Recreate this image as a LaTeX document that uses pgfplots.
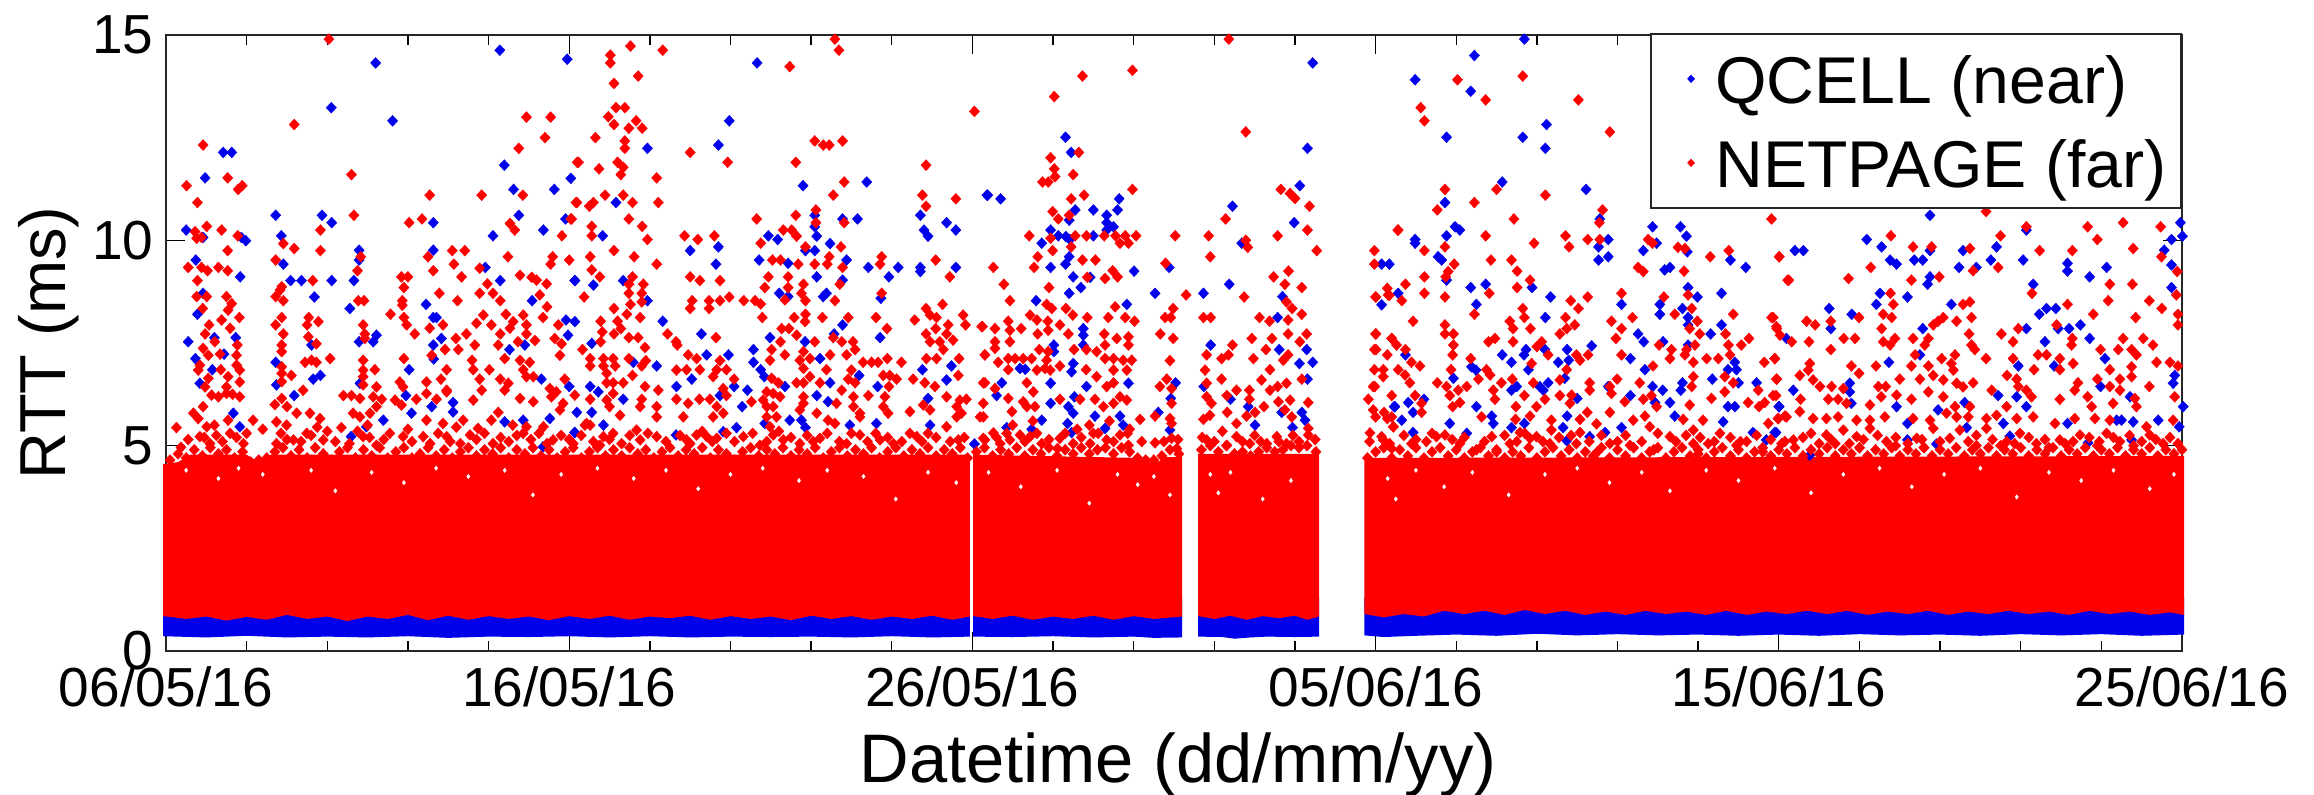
\documentclass[border=0pt]{standalone}
\usepackage{pgfplots}
\pgfplotsset{compat=1.18}
\usepackage{fontspec}
\setmainfont{Liberation Sans}
\definecolor{refblue}{RGB}{0,0,235}
\definecolor{refred}{RGB}{255,0,0}
\pgfplotsset{
  bmk/.style={only marks,color=refblue,mark=diamond*,mark size=1.65pt,mark options={xscale=1.25,draw=refblue,fill=refblue,line width=0.1pt}},
  rmk/.style={only marks,color=refred,mark=diamond*,mark size=1.65pt,mark options={xscale=1.25,draw=refred,fill=refred,line width=0.1pt}},
}
\begin{document}
\begin{tikzpicture}
\useasboundingbox (0,0) rectangle (694.2pt,238.5pt);
\begin{axis}[
  at={(49.8pt,43.2pt)},anchor=south west,
  scale only axis,width=604.8pt,height=184.8pt,
  xmin=0,xmax=50,ymin=0,ymax=15,clip=false,
  xtick={0,10,20,30,40,50},
  xticklabels={06/05/16,16/05/16,26/05/16,05/06/16,15/06/16,25/06/16},
  minor x tick num=4,
  ytick={0,5,10,15},
  tick align=inside,
  major tick length=5.7pt,minor tick length=3pt,
  tick style={black,line width=0.4pt},
  axis line style={line width=0.7pt,black!85},
  /pgf/number format/assume math mode=true,
  every tick label/.append style={font=\fontsize{16.5}{18}\selectfont},
  x tick label style={yshift=-1.2pt},
  y tick label style={xshift=-0.2pt},
  xlabel={Datetime (dd/mm/yy)},
  ylabel={RTT (ms)},
  x label style={at={(axis description cs:0.502,-0.214)},anchor=base,font=\fontsize{20.6}{22}\selectfont},
  y label style={at={(axis description cs:-0.0501,0.5)},anchor=base,rotate=0,font=\fontsize{19.5}{22}\selectfont},
  legend style={at={(axis description cs:1,1.0032)},anchor=north east,
    draw=black!85,line width=0.6pt,fill=white,inner xsep=4.4pt,inner ysep=3.2pt,
    font=\fontsize{19.85}{22}\selectfont,
    nodes={inner sep=0pt,text height=17.5pt,text depth=3pt},
    row sep=4.7pt,
    /tikz/every even column/.append style={column sep=4pt},
    cells={anchor=west}},
  legend image code/.code={\path[#1,mark size=1.15pt] plot coordinates {(0pt,0pt)} (-7.3pt,0pt) (7pt,0pt);},
]
% --- dense lower band of QCELL points (outline of the filled mass)
\addplot[fill=refblue,draw=none,forget plot] coordinates {(-0.07,0.36)(1,0.33)(2,0.37)(3,0.33)(4,0.35)(5,0.33)(6,0.36)(7,0.32)(8,0.35)(9,0.34)(10,0.36)(11,0.33)(12,0.36)(13,0.33)(14,0.35)(15,0.34)(16,0.35)(17,0.33)(18,0.36)(19,0.33)(19.94,0.35)(19.94,1.3)(-0.07,1.3)};
\addplot[fill=refblue,draw=none,forget plot] coordinates {(20.02,0.35)(21,0.34)(22,0.36)(23,0.33)(24,0.35)(24.5,0.32)(25.2,0.33)(25.2,1.3)(20.02,1.3)};
\addplot[fill=refblue,draw=none,forget plot] coordinates {(25.6,0.35)(26.2,0.34)(26.5,0.30)(26.9,0.33)(27.3,0.35)(28,0.34)(28.6,0.35)(28.6,1.3)(25.6,1.3)};
\addplot[fill=refblue,draw=none,forget plot] coordinates {(29.72,0.38)(30.2,0.34)(31,0.37)(32,0.40)(33,0.37)(34,0.42)(35,0.38)(36,0.41)(37,0.38)(38,0.40)(39,0.37)(40,0.40)(41,0.37)(42,0.41)(43,0.38)(44,0.40)(45,0.37)(46,0.41)(47,0.38)(48,0.41)(49,0.37)(50.05,0.40)(50.05,1.3)(29.72,1.3)};
% --- sparse QCELL points
\addplot[bmk] coordinates {
(8.28,14.63)(9.95,14.41)(5.2,14.32)(4.1,13.23)(5.62,12.91)(8.39,11.83)(10.04,11.51)(1.42,12.14)(1.63,12.14)(0.97,11.52)(8.62,11.24)(9.63,11.24)(2.72,10.61)(3.87,10.61)(4.11,10.43)(8.75,10.61)(6.63,10.43)(9.91,10.52)(0.5,10.25)(9.36,10.25)(0.92,10.07)(1.87,10.07)(1.98,9.99)(2.86,10.11)(8.11,10.11)(4.79,9.76)(6.63,9.76)(4.79,9.52)(0.74,9.52)(2.91,9.42)(7.92,9.34)(1.84,9.11)(3.09,9.02)(3.36,9.02)(4.11,9.02)(4.66,9.02)(8.29,9.02)(10.14,9.02)(0.92,8.71)(3.68,8.62)(9.08,8.53)(6.45,8.44)(4.56,8.34)(0.78,8.2)(6.63,8.12)(6.71,8.12)(9.92,8.06)(0.55,7.53)(1.2,7.63)(4.79,7.53)(5.22,7.69)(5.14,7.53)(1.73,7.63)(3.61,7.45)(6.63,7.45)(6.83,7.61)(9.97,7.69)(8.9,7.45)(8.52,7.34)(1.44,7.23)(0.73,7.12)(2.72,7.03)(6.64,7.11)(1.15,6.85)(6.03,6.85)(3.83,6.71)(3.65,6.62)(0.84,6.52)(2.74,6.48)(4.81,6.52)(9.31,6.62)(10,6.44)(3.18,6.22)(5.95,6.22)(6.59,5.95)(7.12,6.05)(7.12,5.82)(6.09,5.79)(1.67,5.79)(1.83,5.46)(8.4,5.58)(8.86,5.62)(9.52,5.66)(10.13,5.32)(4.59,5.22)(9.35,4.97)(4.97,5.46)(5.39,5.62)
(14.66,14.32)(13.97,12.91)(13.7,12.32)(11.94,12.24)(11.16,10.92)(15.8,11.33)(17.38,11.42)(20.36,11.1)(18.71,10.61)(16.09,10.61)(16.78,10.52)(17.15,10.52)(19.36,10.43)(19.59,10.25)(18.8,10.25)(18.9,10.1)(16.09,10.33)(14.94,10.11)(15.17,10.02)(10.83,10.11)(16.14,10.1)(16.47,9.92)(13.7,9.84)(13,9.75)(15.86,9.75)(16.09,9.75)(14.71,9.52)(15.43,9.44)(16.88,9.52)(13.64,9.42)(17.42,9.34)(18.16,9.34)(18.71,9.34)(18.71,9.24)(19.59,9.34)(16.14,9.11)(17.93,9.11)(10.14,9.02)(11.34,9.02)(16.78,9.03)(10.6,8.91)(15.21,8.71)(15.43,8.63)(16.38,8.71)(16.3,8.63)(17.73,8.59)(11.94,8.53)(12.32,8.03)(16.78,7.94)(10.14,8.02)(13.28,7.72)(16.57,7.72)(14.98,7.63)(17.71,7.63)(10.56,7.49)(15.85,7.53)(13.41,7.21)(13.95,7.21)(14.57,7.34)(14.57,7.03)(16.22,7.12)(11.59,7.03)(12.17,6.94)(14.75,6.85)(18.76,6.85)(19.48,6.94)(13.04,6.62)(14.84,6.68)(17.19,6.71)(19.36,6.6)(16.47,6.53)(10.52,6.44)(12.66,6.44)(14.09,6.44)(14.42,6.35)(17.65,6.44)(15.35,6.44)(10.72,6.31)(13.74,6.22)(16.14,6.22)(16.42,6.07)(11.34,6.13)(18.9,6.15)(14.29,5.95)(10.56,5.81)(10.19,5.81)(15.47,5.62)(15.76,5.62)(10.85,5.5)(16.96,5.5)(18.95,5.5)(14.15,5.44)(17.62,5.54)(15.86,5.44)(10.14,5.32)(12.65,5.26)(20.05,5.04)(13.82,5.34)(14.85,5.54)
(20.38,11.1)(20.7,11.01)(22.31,12.51)(22.45,12.14)(22.55,10.74)(23,10.74)(23.64,11.01)(23.6,10.74)(23.33,10.61)(23.33,10.43)(23.5,10.33)(23.33,10.25)(22.4,10.49)(21.94,10.25)(22.13,10.11)(22.32,10.09)(22.42,10.02)(23,10.11)(21.72,9.93)(22.4,9.6)(22.31,9.42)(21.94,9.34)(24.01,9.25)(24.88,9.34)(22.5,9.11)(22.92,9.1)(22.69,8.85)(22.4,8.71)(21.58,8.53)(23.83,8.44)(24.53,8.71)(25.73,8.71)(26.37,8.93)(26.45,10.83)(26.68,9.93)(28.12,11.33)(27.98,10.43)(28.31,12.24)(28.44,14.32)(27.69,8.63)(27.57,8.12)(22.75,7.85)(22.75,7.69)(22.75,7.45)(22.02,7.45)(22.02,7.29)(25.91,7.45)(27.61,7.34)(28.29,7.34)(28.44,7.03)(28.11,7)(22.5,7)(22.46,6.8)(21.31,6.86)(21.18,6.88)(23.87,6.52)(22.83,6.44)(21.94,6.52)(20.73,6.53)(25.04,6.53)(28.31,6.62)(25.74,6.44)(20.6,6.22)(26.4,6.13)(24.92,6.15)(21.94,6.03)(22.53,6.19)(22.38,5.95)(22.5,5.79)(23.04,5.72)(24.61,5.81)(23.66,5.72)(23.74,5.5)(20.85,5.44)(21.47,5.4)(21.72,5.62)(22.36,5.54)(22.46,5.32)(23.29,5.42)(26.84,5.95)(28.17,5.81)(28.25,5.62)(27.94,5.44)(27.67,5.81)(27.01,5.5)(24.9,5.38)(30.46,5.95)
(33.69,14.9)(32.45,14.5)(30.98,13.91)(32.36,13.63)(34.24,12.82)(31.76,12.51)(33.65,12.51)(34.21,12.24)(33.14,11.42)(35.22,11.24)(31.72,10.92)(31.97,10.33)(32.09,10.25)(35.56,10.52)(36.87,10.33)(37.56,10.33)(37.71,10.1)(30.98,10.02)(30.98,9.93)(31.76,10.11)(35.77,10.02)(35.53,9.84)(36.97,9.93)(36.64,9.75)(37.73,9.72)(31.55,9.6)(31.64,9.52)(35.53,9.52)(35.77,9.6)(30.15,9.42)(30.34,9.42)(38.8,9.52)(39.18,9.34)(37.17,9.28)(37.3,9.34)(31.76,9.03)(32.36,8.85)(32.73,8.93)(33.88,8.85)(37.75,8.85)(30.56,8.71)(37.98,8.62)(34.34,8.62)(38.58,8.71)(30.15,8.43)(32.5,8.44)(36.1,8.44)(37.05,8.44)(37.05,8.2)(37.61,8.34)(34.21,8.12)(37.75,8.12)(38.58,7.94)(37.75,7.94)(36.51,7.72)(38.31,7.72)(36.65,7.53)(37.13,7.53)(35.36,7.43)(33.73,7.34)(33.68,7.21)(34.75,7.34)(33.14,7.21)(34.2,7.34)(30.74,7.21)(37.75,7.45)(36.32,7.12)(33.37,7.03)(34.53,7.03)(34.79,7.08)(32.38,6.92)(32.49,6.84)(38.91,7.03)(38.95,6.85)(38.74,6.85)(33.79,6.85)(36.68,6.85)(34.69,6.64)(38.35,6.62)(34.28,6.53)(31.93,6.64)(34.07,6.44)(34.16,6.35)(33.5,6.44)(33.37,6.35)(36.87,6.44)(37.12,6.35)(37.61,6.53)(37.57,6.35)(39.45,6.53)(39,6.53)(35.77,6.44)(36.32,6.22)(30.81,6.05)(31.2,6.13)(35,6.15)(37.3,6.05)(36.93,6.05)(30.48,5.95)(32.5,5.95)(38.74,5.95)(38.91,5.95)(40,5.95)(30.93,5.81)(30.65,5.62)(32.88,5.72)(32.92,5.54)(34.75,5.72)(37.42,5.72)(31.84,5.54)(34.65,5.44)(33.69,5.54)(33.37,5.44)(36.1,5.44)(30.93,5.32)(35.69,5.32)(39.36,5.32)(32.26,5.3)(35.31,5.22)(34.74,5.12)(39.93,5.32)(38.62,5.58)(39.69,5.14)
(43.75,10.61)(42.18,10.02)(42.55,9.84)(49.96,10.43)(50.01,10.1)(49.74,10.02)(46.14,10.25)(40.4,9.75)(40.61,9.75)(45.4,9.84)(49.56,9.76)(43.75,9.75)(44.57,9.75)(42.76,9.52)(42.92,9.42)(43.36,9.52)(43.57,9.52)(45.26,9.52)(46.06,9.52)(47.16,9.44)(47.16,9.25)(44.47,9.34)(44.9,9.34)(48.13,9.34)(49.74,9.4)(47.71,9.11)(43.75,9.11)(43.69,8.93)(46.31,8.93)(42.51,8.71)(43.19,8.62)(49.74,8.85)(42.42,8.44)(44.28,8.44)(41.25,8.34)(46.64,8.34)(46.87,8.34)(46.46,8.2)(41.81,8.2)(47.48,7.94)(41.29,7.85)(43.57,7.85)(46.14,7.85)(46.93,7.85)(47.2,7.85)(40.19,7.61)(46.6,7.53)(47.71,7.61)(43.5,7.21)(48.09,7.12)(42.73,7.03)(45.94,6.94)(46.83,6.94)(49.82,6.71)(49.78,6.52)(41.76,6.52)(41.76,6.31)(47.98,6.44)(40.36,6.35)(48.71,6.19)(45.44,6.22)(41.8,6.03)(40.01,5.95)(42.92,5.95)(43.95,5.87)(50.03,5.95)(44.61,6.05)(46.14,5.95)(45.9,6.19)(48.38,5.62)(48.5,5.62)(49.41,5.62)(43.19,5.54)(45.57,5.54)(47.16,5.54)(48.79,5.58)(44.66,5.44)(49.93,5.46)(39.9,5.32)(45.73,5.23)(43.19,5.14)(47.67,5.07)(48.75,5.14)(43.91,5.04)(40.77,4.77)
};
% --- dense band of NETPAGE points (outline of the filled mass)
\addplot[fill=refred,draw=none,forget plot] coordinates {(-0.07,0.85)(0.5,0.78)(1,0.84)(1.5,0.74)(2,0.83)(2.5,0.76)(3,0.88)(3.5,0.78)(4,0.84)(4.5,0.73)(5,0.84)(5.5,0.78)(6,0.88)(6.5,0.75)(7,0.86)(7.5,0.76)(8,0.85)(8.5,0.78)(9,0.84)(9.5,0.75)(10,0.85)(10.5,0.78)(11,0.86)(11.5,0.76)(12,0.84)(12.5,0.8)(13,0.86)(13.5,0.76)(14,0.85)(14.5,0.78)(15,0.84)(15.5,0.75)(16,0.86)(16.5,0.78)(17,0.85)(17.5,0.76)(18,0.84)(18.5,0.78)(19,0.86)(19.5,0.76)(19.94,0.84)
(19.94,4.78)(2.6,4.78)(2.3,4.6)(2,4.78)(0.6,4.78)(0.3,4.6)(-0.07,4.55)};
\addplot[fill=refred,draw=none,forget plot] coordinates {(20.02,0.85)(20.5,0.78)(21,0.86)(21.5,0.76)(22,0.84)(22.5,0.78)(23,0.86)(23.5,0.76)(24,0.85)(24.5,0.78)(25.2,0.84)(25.2,4.72)(24.8,4.72)(24.5,4.55)(24.2,4.7)(20.02,4.78)};
\addplot[fill=refred,draw=none,forget plot] coordinates {(25.6,0.85)(26,0.78)(26.4,0.86)(26.8,0.76)(27.2,0.85)(27.6,0.8)(28,0.86)(28.3,0.76)(28.6,0.84)(28.6,4.8)(25.6,4.8)};
\addplot[fill=refred,draw=none,forget plot] coordinates {(29.72,0.9)(30.2,0.82)(30.7,0.9)(31.2,0.84)(31.7,0.98)(32.2,0.9)(32.7,0.98)(33.2,0.88)(33.7,1)(34.2,0.9)(34.7,0.98)(35.2,0.88)(35.7,0.96)(36.2,0.88)(36.7,0.98)(37.2,0.9)(37.7,0.96)(38.2,0.88)(38.7,0.98)(39.2,0.88)(39.7,0.96)(40.2,0.9)(40.7,0.98)(41.2,0.9)(41.7,0.98)(42.2,0.88)(42.7,0.96)(43.2,0.9)(43.7,0.98)(44.2,0.88)(44.7,0.96)(45.2,0.9)(45.7,0.98)(46.2,0.9)(46.7,0.96)(47.2,0.88)(47.7,0.98)(48.2,0.9)(48.7,0.96)(49.2,0.88)(49.7,0.94)(50.05,0.88)
(50.05,4.75)(29.72,4.7)};
% --- sparse NETPAGE points
\addplot[rmk] coordinates {
(4.04,14.9)(3.18,12.82)(0.92,12.32)(4.6,11.6)(8.94,13)(9.54,13)(9.4,12.5)(8.75,12.24)(10.2,11.9)(0.51,11.33)(1.53,11.52)(1.79,11.24)(1.89,11.33)(6.54,11.1)(7.83,11.1)(8.85,11.1)(0.78,10.92)(10.17,10.92)(4.66,10.61)(10.04,10.52)(6.03,10.43)(6.35,10.52)(1.01,10.34)(1.38,10.25)(3.83,10.25)(8.53,10.41)(8.65,10.25)(0.72,10.21)(0.76,10.05)(0.88,10.07)(1.78,10.11)(9.82,10.11)(2.91,9.92)(3.18,9.8)(1.53,9.75)(3.83,9.75)(7.1,9.75)(7.41,9.75)(2.72,9.52)(4.83,9.6)(6.5,9.6)(8.48,9.6)(9.59,9.6)(10,9.52)(7.14,9.42)(9.54,9.42)(0.55,9.34)(0.88,9.34)(1.03,9.26)(1.3,9.34)(1.53,9.26)(7.78,9.32)(4.75,9.26)(6.63,9.26)(7.33,9.11)(5.84,9.11)(6,9.11)(8.78,9.15)(9.07,9.1)(9.19,9.03)(0.78,9.02)(3.64,9.02)(2.87,8.87)(2.83,8.79)(5.9,8.85)(7.97,8.94)(9.44,8.94)(7.78,8.71)(8.11,8.71)(6.78,8.71)(0.76,8.63)(1.01,8.63)(1.5,8.63)(1.63,8.46)(2.72,8.63)(9.27,8.67)(2.91,8.53)(4.77,8.53)(4.91,8.53)(5.86,8.53)(5.86,8.42)(7.23,8.53)(8.29,8.53)(9.45,8.38)(0.91,8.34)(1.54,8.3)(5.57,8.2)(8.43,8.2)(7.87,8.18)(7.7,7.98)(2.87,8.12)(3.54,8.12)(5.9,8.12)(8.86,8.18)(9.35,8.12)(1.38,8.06)(1.82,8.12)(2.72,7.94)(3.5,7.94)(3.78,8.02)(4.89,7.94)(1.07,7.94)(5.97,7.94)(6.87,7.94)(8.07,7.94)(8.61,8.02)(8.94,7.94)(9.73,7.94)(1.59,7.86)(6.54,7.86)(8.53,7.86)(0.97,7.72)(2.91,7.72)(6.17,7.72)(7.45,7.72)(8.29,7.72)(8.94,7.72)(4.93,7.72)(3.53,7.65)(7.19,7.61)(1.21,7.53)(9.64,7.61)(9.15,7.56)(3.73,7.48)(9.81,7.48)(1.77,7.45)(2.87,7.45)(4.93,7.61)(7.66,7.45)(8.24,7.45)(8.73,7.53)(0.92,7.37)(1.05,7.2)(6.92,7.34)(7.25,7.34)(2.87,7.29)(1.34,7.23)(1.75,7.2)(6.59,7.2)(9.77,7.2)(8.4,7.12)(3.61,7.08)(3.45,7.03)(3.73,7.03)(4.07,7.12)(4.89,7.08)(5.9,7.12)(7.59,7.08)(8.78,7.08)(9.02,7.03)(0.84,6.96)(0.8,6.84)(1.75,6.96)(1.83,6.84)(2.87,6.92)(2.87,6.76)(4.89,6.84)(5.18,6.85)(6.96,6.85)(7.62,6.85)(8.02,6.85)(8.86,6.85)(1.36,6.85)(3.11,6.71)(1.54,6.68)(8.94,6.68)(9.11,6.68)(4.89,6.68)(1.05,6.64)(6.82,6.62)(7.78,6.62)(8.29,6.62)(9.89,6.62)(2.87,6.56)(1.83,6.55)(5.8,6.55)(8.49,6.52)(4.89,6.48)(0.97,6.43)(6.46,6.55)(1.5,6.43)(9.52,6.39)(5.22,6.43)(3.4,6.35)(5.88,6.43)(7.83,6.35)(6.96,6.35)(6.46,6.27)(8.4,6.35)(9.68,6.31)
(0.68,5.79)(0.92,5.95)(1.13,6.23)(1.5,6.27)(1.83,6.19)(2.87,6.15)(4.4,6.22)(4.6,6.22)(4.81,6.15)(5.14,6.19)(5.35,6.13)(5.68,6.11)(6.21,6.13)(6.71,6.13)(6.96,6.31)(7.62,6.11)(8.78,6.15)(9.11,6.07)(9.56,6.19)(9.85,6.03)(1.3,6.19)(1.65,6.25)(2.7,6)(3,5.95)(0.8,5.66)(1.01,5.46)(1.54,5.62)(2.16,5.62)(2.74,5.58)(2.99,5.5)(3.24,5.79)(3.57,5.79)(3.82,5.66)(3.75,5.45)(4.64,5.79)(4.81,5.7)(5.06,5.79)(5.22,5.95)(5.84,5.99)(6.46,5.62)(6.87,5.54)(7.37,5.62)(7.74,5.42)(8.07,5.62)(8.24,5.81)(8.94,5.46)(9.36,5.46)(9.77,5.87)(0.26,5.44)(0.37,4.96)(0.84,5.22)(1.09,5.05)(1.59,5.3)(1.92,5.05)(2.74,5.05)(3.16,5.14)(3.49,5.3)(3.9,5.14)(4.35,5.44)(4.89,5.22)(5.22,5.01)(5.88,5.22)(6.38,5.22)(6.96,5.22)(7.54,5.26)(8.11,5.05)(8.86,5.3)(9.6,5.14)(10.1,5.05)(1.2,5.5)(2.4,5.4)(5,5.5)(6,5.4)(7.2,5.45)(8.6,5.5)
(16.59,14.9)(16.69,14.63)(11.52,14.73)(12.32,14.63)(11.02,14.51)(11.02,14.32)(11.71,14)(15.47,14.23)(11.11,13.82)(11.16,13.23)(11.38,13.23)(20.05,13.14)(10.97,13.01)(11.11,12.82)(11.66,12.91)(11.48,12.73)(11.81,12.73)(10.65,12.5)(11.38,12.42)(11.38,12.24)(16.09,12.42)(16.3,12.32)(16.45,12.32)(16.78,12.42)(13,12.14)(10.23,11.9)(11.2,11.9)(13.93,11.9)(15.62,11.9)(18.85,11.83)(10.74,11.74)(11.34,11.78)(11.28,11.6)(12.17,11.52)(16.82,11.42)(10.89,11.1)(11.34,11.1)(16.55,11.1)(18.76,11.1)(19.59,11.01)(10.19,10.92)(10.6,10.92)(10.5,10.83)(11.57,10.92)(12.21,10.92)(18.85,10.83)(16.12,10.74)(15.62,10.61)(14.65,10.52)(10.06,10.52)(11.48,10.52)(16.82,10.43)(16.12,10.43)(10.56,10.34)(10.56,10.11)(11.81,10.34)(15.31,10.25)(15.52,10.25)(15.64,10.1)(12.86,10.11)(13.6,10.11)(11.94,10.02)(13.19,10.02)(14.75,9.93)(15.86,9.84)(16.74,9.84)(11.11,9.75)(11.61,9.6)(10.52,9.6)(17.75,9.6)(16.45,9.6)(15.04,9.52)(15.24,9.52)(19.09,9.52)(17.71,9.42)(12.17,9.42)(15.68,9.42)(16.09,9.42)(16.4,9.42)(10.56,9.28)(10.76,9.11)(16.78,9.34)(14.94,9.11)(15.43,9.11)(13,9.11)(13.24,9.02)(13.74,9.02)(19.44,9.11)(11.57,9.11)(11.48,8.93)(11.84,8.93)(15.81,8.93)(16.71,8.93)(14.85,8.85)(15.43,8.85)(11.48,8.71)(11.8,8.71)(15.76,8.71)(17.75,8.71)(10.37,8.62)(13.97,8.62)(15.35,8.55)(13.74,8.53)(14.33,8.53)(13.05,8.53)(13.47,8.53)(13,8.34)(13.47,8.34)(14.61,8.53)(14.75,8.45)(15.86,8.53)(16.59,8.53)(11.8,8.5)(11.52,8.44)(11.11,8.34)(18.85,8.34)(19.26,8.44)(11.43,8.2)(15.86,8.2)(18.95,8.18)(19.11,8.12)(19.77,8.18)(14.79,8.12)(15.58,8.12)(16.28,8.12)(16.92,8.12)(17.61,8.12)(11.76,8.12)(18.57,8.06)(10.78,8.03)(11.2,8.03)(15.85,8.02)(19.83,7.94)(15.27,7.85)(15.45,7.85)(19.09,7.85)(19.4,7.94)(17.88,7.85)(20.23,7.9)(11.28,7.85)(10.82,7.77)(12.44,7.72)(18.85,7.72)(15.64,7.69)(19.36,7.72)(11.11,7.72)(11.48,7.63)(11.71,7.63)(13.64,7.63)(16.55,7.63)(16.76,7.53)(17.04,7.53)(10.78,7.53)(12.65,7.53)(12.68,7.45)(18.95,7.53)(19.19,7.53)(19.52,7.57)(15.24,7.53)(16.09,7.53)(11.88,7.39)(10.33,7.34)(17.09,7.34)(15.02,7.34)(15.81,7.29)(19.28,7.34)(20.31,7.21)(12.95,7.21)(13.16,7.12)(15.35,7.21)(16.47,7.21)(16.88,7.21)(10.52,7.12)(10.85,7.12)(11.09,7.12)(11.48,7.12)(11.9,7.07)(13.74,7.07)(19.67,7.12)(17.89,7.12)(18.86,7.12)(19.11,7.12)(17.29,7.03)(17.5,7.03)(17.66,7.03)(18.24,7.03)(15.72,7.08)(15.97,7.12)(10.52,6.94)(10.85,6.94)(11.14,6.94)(14.98,7.08)(11.8,6.94)(12.66,6.84)(12.91,6.85)(13.24,6.85)(13.66,6.85)(13.9,6.85)(16.38,6.85)(15.81,6.88)(17,6.84)(10.93,6.76)(11.57,6.71)(17.79,6.71)(17.95,6.71)(19.65,6.71)(13.57,6.68)(15.97,6.68)(15.02,6.64)(15.19,6.53)(18.53,6.62)(18.12,6.62)(16.92,6.62)(14.09,6.62)(10.93,6.53)(11.09,6.53)(18.82,6.53)(16.22,6.53)(15.64,6.53)(15.81,6.53)(11.34,6.53)(20.27,6.53)(17.09,6.53)(17.93,6.44)(11.88,6.44)(13.82,6.39)(14.9,6.31)(15.06,6.27)(15.23,6.19)(12.21,6.35)(16.76,6.35)(19.07,6.44)(11.09,6.27)(10.14,6.23)(13.9,6.22)(17.83,6.19)(17.05,6.19)(17.42,6.22)(19.36,6.19)(19.85,6.13)(19.69,6.11)
(10.52,6.13)(10.93,6.11)(11.8,6.13)(12.66,6.13)(12.95,6.03)(13.23,6.13)(13.49,6.13)(13.66,5.95)(14.52,6.07)(14.81,6.11)(15.06,5.95)(15.81,6.03)(10.52,5.5)(10.39,5.5)(12.17,5.7)(12.83,5.7)(13.57,5.7)(13.82,5.79)(14.9,5.7)(15.14,5.7)(16.14,5.79)(16.42,5.62)(16.59,5.54)(17.21,5.7)(18.45,5.83)(19.61,5.7)(20.19,5.7)(11,5.95)(11.76,5.95)(12.17,5.95)(11.26,5.74)(18.78,5.99)(18.95,5.87)(17.05,5.95)(17.21,5.79)(17.79,5.95)(17.91,5.79)(16.63,6.03)(15.72,5.87)(19.73,5.79)(19.61,5.95)(10.85,5.22)(11.09,5.3)(10.76,5.01)(11.67,5.38)(11.76,5.14)(12.17,5.22)(12.91,5.14)(13.16,5.26)(13.41,5.22)(13.66,5.18)(14.32,5.22)(14.73,5.01)(15.06,5.26)(15.31,5.14)(15.72,5.05)(16.22,5.18)(16.88,5.05)(17.21,5.26)(17.71,5.14)(18.04,5.05)(18.62,5.22)(18.9,5.3)(19.36,5.46)(19.65,5.14)(20.27,5.18)(10.43,5.54)(14.98,5.46)(14.9,5.95)(15.81,6.19)
(26.36,14.9)(23.97,14.14)(22.73,14)(22.03,13.5)(26.78,12.64)(22.64,12.14)(21.94,12.01)(22.03,11.74)(22.5,11.6)(22.05,11.55)(21.88,11.42)(21.74,11.42)(23.97,11.24)(27.65,11.24)(27.88,11.14)(28,11.02)(22.77,11.1)(22.45,11.01)(28.36,10.83)(21.99,10.7)(22.13,10.52)(22.4,10.61)(26.28,10.52)(28.31,10.25)(30.55,10.25)(21.41,10.11)(21.94,10.05)(22.55,10.11)(22.83,10.11)(23.27,10.11)(23.55,10.11)(23.79,10.11)(23.66,9.93)(23.87,9.93)(24.06,10.11)(25.03,10.11)(25.86,10.11)(27.57,10.11)(26.78,10)(26.83,9.83)(28.54,9.75)(21.99,9.75)(22.45,9.84)(29.97,9.75)(21.62,9.6)(25.9,9.6)(22.73,9.52)(23.05,9.52)(29.97,9.42)(24.79,9.44)(20.52,9.34)(21.53,9.34)(23.48,9.26)(23.6,9.11)(27.84,9.25)(27.47,9.11)(22.85,9.1)(23.29,9.07)(20.78,8.93)(27.75,8.93)(28.17,8.85)(21.9,8.85)(30.29,8.83)(30.34,8.66)(25.3,8.67)(26.74,8.62)(30,8.62)(20.93,8.53)(27.79,8.5)(21.84,8.44)(21.97,8.34)(22.32,8.34)(23.54,8.38)(24.98,8.34)(27.93,8.34)(21.43,8.18)(21.6,8.06)(22.49,8.18)(22.85,8.12)(23.37,8.12)(23.79,8.12)(24.78,8.12)(24.92,8.12)(25.73,8.12)(25.91,8.12)(27.12,8.12)(28.17,8.2)(27.83,8.06)(20.25,7.9)(20.89,8.03)(21.87,8.03)(24.02,8.03)(22.17,7.94)(21.21,7.85)(20.56,7.85)(20.93,7.81)(21.88,7.81)(27.37,8.03)(22.38,7.72)(21.62,7.72)(23.27,7.72)(24.66,7.72)(30,7.72)(27.83,7.72)(28.29,7.72)(28.12,7.53)(20.93,7.53)(23.87,7.65)(24.98,7.61)(26.93,7.61)(27.43,7.61)(30.4,7.61)(23.58,7.61)(20.56,7.53)(20.56,7.37)(23.87,7.45)(23.29,7.45)(26.45,7.45)(29.97,7.34)(27.28,7.34)(21.66,7.34)(22.52,7.34)(22.83,7.34)(23.08,7.29)(20.31,7.21)(21.06,7.12)(20.89,7.12)(21.26,7.12)(21.47,7.12)(21.88,7.29)(21.84,7.08)(21.8,6.88)(25.81,7.21)(26.35,7.21)(30.29,7.21)(26.97,7.12)(26.18,7.12)(23.29,7.12)(23.5,7.12)(23.74,7.08)(23.95,7.08)(24.9,7.07)(27.71,7.08)(27.83,7.21)(20.64,7.03)(22.17,6.94)(22.82,6.85)(25.77,6.84)(27.38,6.85)(29.97,6.85)(30.19,6.85)(20.89,6.85)(23.5,6.84)(23.83,6.84)(21.6,6.84)(21.93,6.84)(23.08,6.68)(26.18,6.62)(28.17,6.62)(27.17,6.6)(24.82,6.62)(20.31,6.53)(21.35,6.53)(23.5,6.53)(24.65,6.44)(24.94,6.39)(25.81,6.52)(27.79,6.52)(29.94,6.44)(27.57,6.44)(20.56,6.39)(27.38,6.35)(26.31,6.22)(26.55,6.35)(26.87,6.35)(21.51,6.31)(23.33,6.44)(22.17,6.13)(20.89,6.15)(21.26,6.07)(22.67,6.13)(23.04,6.13)(23.66,6.19)(23.83,6.11)(28.33,6.05)(25.81,6.19)(25.93,6.03)(20.27,6.03)(29.82,6.13)(27.59,6.07)(27.88,6.11)(26.87,6.13)(20.98,5.83)(24.94,6.03)(29.94,5.87)(27.23,5.95)(21.35,5.95)(21.55,5.95)(23.25,5.95)(23.5,6.03)(24.16,5.64)(24.53,5.72)(24.9,5.66)(24.94,5.54)(25.73,5.64)(25.89,5.74)(26.32,5.81)(26.55,5.54)(26.8,5.72)(27.01,5.81)(27.75,5.87)(27.92,5.7)(28.33,5.42)(30,5.7)(30.44,5.46)(30.29,5.66)(20.27,5.7)
(21.18,5.26)(20.93,5.14)(20.69,5.05)(21.43,5.22)(20.52,5.31)(20.31,5.14)(21.72,5.05)(22.17,5.18)(22.11,4.93)(22.5,5.05)(23.12,5.3)(23.33,5.14)(22.92,5.05)(23.66,5.26)(23.87,5.01)(24.53,5.07)(24.94,5.18)(25.07,4.93)(25.81,5.14)(26.31,5.01)(26.55,5.22)(26.88,5.05)(27.3,5.05)(27.55,5.22)(27.79,5.05)(28.33,5.26)(29.86,5.31)(30.19,5.14)(30.4,4.93)(21.5,5.6)(22.9,5.5)(23.4,5.6)(21,5.5)(23.9,5.4)(22.6,5.4)
(33.65,14)(32.03,13.91)(32.73,13.42)(35.03,13.42)(31.12,13.23)(31.21,12.91)(35.81,12.64)(31.72,11.24)(33,11.24)(34.21,11.1)(32.45,10.92)(31.53,10.74)(35.63,10.74)(33.43,10.52)(35.55,10.43)(30.56,10.25)(32.73,10.11)(34.71,10.11)(33.93,9.93)(35.26,10.02)(35.56,10.02)(34.8,9.84)(31.72,9.84)(36.76,10.02)(36.87,9.93)(37.5,9.83)(37.67,9.8)(31.21,9.75)(38.76,9.75)(32.86,9.52)(33.37,9.52)(38.3,9.6)(40.01,9.6)(31.95,9.42)(33.51,9.25)(36.51,9.34)(36.64,9.24)(37.65,9.25)(31.8,9.24)(31.74,9.11)(31.21,9.11)(33.83,9.03)(40.22,9.03)(30.74,8.93)(33.51,8.85)(30.31,8.67)(31.21,8.71)(32.82,8.71)(36.1,8.71)(37.75,8.67)(30.01,8.62)(31.72,8.62)(35.26,8.62)(37.15,8.62)(30.65,8.53)(34.84,8.53)(35.03,8.34)(33.65,8.34)(37.84,8.34)(32.45,8.2)(37.42,8.2)(38.87,8.2)(33.69,8.12)(34.71,8.12)(36.37,8.12)(39.82,8.12)(30.93,8.03)(33.33,8.03)(35.85,8.03)(37.98,8.03)(31.72,7.94)(34.94,7.94)(33.41,7.85)(33.84,7.85)(36.1,7.85)(34.74,7.85)(37.79,7.85)(39.94,7.9)(30.01,7.72)(31.72,7.72)(31.93,7.72)(34.57,7.72)(35.96,7.61)(38.04,7.72)(38.68,7.72)(30.4,7.61)(32.96,7.61)(32.8,7.53)(39.26,7.61)(33.41,7.53)(31.93,7.45)(30.52,7.45)(34.12,7.53)(34,7.41)(38.75,7.45)(37.03,7.45)(37.92,7.45)(39.07,7.45)(30.01,7.34)(30.74,7.34)(37.71,7.34)(37.34,7.34)(31.91,7.21)(34.28,7.21)(36.1,7.21)(34.98,7.21)(35.27,7.21)(37.67,7.21)(38.79,7.21)(32.36,7.12)(30.89,7.03)(31.1,6.94)(33.87,7)(35.07,7.08)(37.3,7.12)(37.88,7.03)(38.21,7.12)(38.5,7.12)(39.64,7.03)(39.9,7.12)(36.88,6.94)(30.56,6.85)(31.87,6.85)(32.75,6.85)(32.84,6.72)(34.74,6.85)(37.88,6.68)(30.73,6.72)(30.85,6.53)(38.66,6.68)(39.94,6.62)(35.99,6.62)(32.55,6.62)(33.39,6.62)(34.57,6.6)(31.53,6.53)(31.76,6.44)(33.12,6.53)(33.91,6.53)(35.31,6.53)(35.31,6.35)(35.81,6.44)(36.55,6.53)(38.87,6.53)(30.19,6.68)(29.98,6.44)(32.26,6.44)(32.92,6.35)(32.96,6.13)(37.84,6.44)(32.05,6.35)(39.49,6.35)(31.84,6.22)(30.4,6.22)(30.98,6.22)(33.69,6.22)(34.86,6.23)(34.82,6.03)(39.86,6.22)(34.57,6.22)(35.85,6.27)(36.84,6.22)(38.33,6.15)(38.66,6.31)(34.2,6.13)(36.64,6.13)(36.18,6.07)(32.09,6.05)(39.24,6.05)(31.14,6.03)(39.51,5.95)(39.65,6.05)(31.91,5.95)(33.48,5.95)(33.99,5.95)(35.81,5.81)(36.97,5.95)(37.79,5.99)(30.21,5.81)(30.4,5.7)(31.14,5.81)(32.63,5.7)(33.83,5.72)(34.36,5.62)(35.25,5.81)(36.68,5.72)(38.12,5.62)(39.98,5.66)(40.15,5.72)(35.07,5.64)(33.47,5.64)(35.48,5.53)(36.39,5.62)(37.63,5.64)(39.74,5.54)(30.44,5.46)(36.8,5.46)(33.58,5.32)(33.99,5.22)(34.36,5.38)(35.07,5.32)(37.3,5.22)(37.88,5.38)(38.54,5.3)(31.51,5.22)(31.26,5.1)(31.72,5.26)(30.15,5.22)(32.88,5.22)(33.33,5.05)(33.83,5.18)(34.98,5.05)(35.81,5.05)(36.31,5.01)(39.2,5.1)(38.25,5.05)(37.88,5.05)(38.95,5.01)(30.89,5.05)(32.09,5.05)(34.32,5.05)(40.07,5.05)(32.5,4.9)(33,4.85)(35.5,4.85)(36.9,4.9)(38,4.8)(39.6,4.85)
(45.14,10.7)(39.82,10.52)(46.14,10.33)(47.66,10.33)(48.54,10.43)(49.47,10.33)(45.5,10.11)(42.78,10.11)(47.9,10.02)(43.33,9.84)(43.79,9.84)(44.74,9.8)(46.47,9.75)(47.28,9.75)(48.79,9.8)(40.01,9.6)(49.49,9.6)(42.28,9.34)(45.44,9.34)(44.82,9.26)(49.88,9.24)(43.98,9.11)(41.73,9.07)(40.25,9.03)(43.29,9.03)(48.21,8.93)(48.77,8.93)(46.28,8.71)(42.77,8.71)(49.86,8.67)(49.19,8.53)(48.17,8.53)(44.74,8.5)(44.57,8.44)(42.84,8.44)(47.16,8.44)(49.5,8.34)(42.59,8.2)(47.8,8.2)(49.9,8.2)(39.86,8.12)(42.8,8.12)(44.78,8.12)(48.85,8.12)(41.99,8.12)(40.69,8.03)(40.9,7.94)(41.29,8.03)(43.95,8.03)(43.83,7.94)(44.41,8.03)(44.08,8.12)(49.9,7.94)(46.89,7.94)(45.94,7.85)(42.55,7.85)(39.95,7.85)(40.03,7.69)(40.32,7.53)(45.52,7.72)(44.72,7.72)(47.28,7.61)(40.75,7.53)(41.61,7.61)(41.89,7.61)(42.59,7.53)(42.88,7.61)(43.33,7.61)(43.71,7.61)(43.62,7.45)(45.81,7.53)(48.54,7.61)(49.04,7.61)(44.78,7.45)(44.86,7.34)(47.26,7.45)(42.76,7.45)(49.28,7.45)(41.29,7.34)(47.98,7.34)(48.42,7.34)(48.75,7.34)(48.87,7.21)(46.43,7.21)(46.64,7.21)(43.38,7.21)(44.37,7.21)(39.9,7.12)(44.04,7.12)(45.14,7.12)(45.81,7.12)(46.97,7.12)(49.37,7.03)(49.7,7.03)(40.77,7)(40.73,6.84)(47.3,7)(44.28,7)(41.8,6.94)(42.41,6.94)(43.29,6.94)(43.71,6.94)(48.75,6.92)(49.9,6.94)(44.33,6.84)(46.33,6.85)(46.97,6.85)(48.21,6.85)(41.99,6.76)(43.83,6.71)(45.66,6.71)(40.52,6.71)(39.95,6.62)(43.5,6.62)(43,6.62)(40.85,6.6)(44.08,6.6)(44.41,6.52)(45.9,6.62)(47.9,6.62)(48.46,6.62)(48.75,6.68)(47.42,6.53)(41.31,6.44)(41.02,6.44)(42.47,6.44)(42.65,6.44)(44.82,6.53)(45.94,6.44)(48.21,6.44)(49.19,6.44)(41.6,6.39)(43.71,6.31)(45.28,6.35)(46.14,6.35)(47.34,6.35)(48.46,6.35)(39.93,6.22)(40.54,6.13)(41.23,6.13)(41.47,6.13)(42.92,6.23)(43.29,6.13)(42.54,6.19)(44.08,6.19)(44.57,6.43)(48.83,6.15)(47.66,6.19)(46.97,6.13)(46.27,6.19)(45.65,5.95)(48.29,6.03)(49.82,6.19)(41.68,6.03)(42.26,5.99)(44.37,5.95)(44.74,5.95)(47.76,5.95)(48.87,5.95)
(39.99,5.66)(40.19,5.7)(40.52,5.83)(40.85,5.66)(41.18,5.66)(41.47,5.7)(41.93,5.62)(42.26,5.62)(42.63,5.7)(43.33,5.66)(43.75,5.62)(44.16,5.79)(44.41,5.7)(44.7,5.7)(45.15,5.66)(45.4,5.74)(45.9,5.66)(46.31,5.7)(46.85,5.54)(47.34,5.66)(47.84,5.66)(48.21,5.62)(49.12,5.46)(49.78,5.62)(40.36,5.14)(41.18,5.26)(41.6,5.38)(41.93,5.22)(42.26,5.42)(42.67,5.1)(43.42,5.18)(43.83,5.42)(44.24,5.18)(44.49,5.38)(45.15,5.42)(45.98,5.3)(46.39,5.05)(46.97,5.14)(47.47,5.26)(48.13,5.3)(48.46,5.1)(49.2,5.26)(49.53,5.05)(40.8,5.3)(41.4,5.05)(42,4.95)(42.9,5)(43.6,4.95)(44.9,5)(45.5,5)(46.7,4.95)(47.9,5)(48.8,5)(49.9,5.05)
(0.1,4.65)(0.3,4.8)(0.5,4.7)(0.7,4.9)(0.9,4.75)(1.1,4.95)(1.3,4.8)(1.5,4.9)(1.7,4.7)(1.9,4.85)(2.1,4.6)(2.3,4.65)(2.5,4.7)(2.7,4.85)(2.9,4.95)(3.1,4.75)(3.3,4.9)(3.5,4.7)(3.7,4.95)(3.9,4.8)(4.1,4.65)(4.3,4.85)(4.5,4.95)(4.7,4.7)(4.9,4.9)(5.1,4.75)(5.3,4.95)(5.5,4.7)(5.7,4.85)(5.9,4.95)(6.1,4.7)(6.3,4.8)(6.5,4.95)(6.7,4.75)(6.9,4.9)(7.1,4.7)(7.3,4.85)(7.5,4.95)(7.7,4.75)(7.9,4.9)(8.1,4.8)(8.3,4.95)(8.5,4.7)(8.7,4.9)(8.9,4.8)(9.1,4.95)(9.3,4.75)(9.5,4.9)(9.7,4.7)(9.9,4.85)
(10.1,4.95)(10.3,4.7)(10.5,4.85)(10.7,4.95)(10.9,4.75)(11.1,4.9)(11.3,4.75)(11.5,4.95)(11.7,4.8)(11.9,4.9)(12.1,4.7)(12.3,4.85)(12.5,4.95)(12.7,4.75)(12.9,4.9)(13.1,4.8)(13.3,4.95)(13.5,4.7)(13.7,4.9)(13.9,4.8)(14.1,4.65)(14.3,4.85)(14.5,4.95)(14.7,4.75)(14.9,4.9)(15.1,4.8)(15.3,4.95)(15.5,4.75)(15.7,4.9)(15.9,4.8)(16.1,4.95)(16.3,4.7)(16.5,4.85)(16.7,4.95)(16.9,4.75)(17.1,4.9)(17.3,4.8)(17.5,4.95)(17.7,4.7)(17.9,4.85)(18.1,4.95)(18.3,4.75)(18.5,4.9)(18.7,4.8)(18.9,4.95)(19.1,4.75)(19.3,4.9)(19.5,4.8)(19.7,4.95)(19.88,4.7)
(20.1,4.85)(20.3,4.95)(20.5,4.75)(20.7,4.9)(20.9,4.8)(21.1,4.95)(21.3,4.75)(21.5,4.9)(21.7,4.8)(21.9,4.95)(22.1,4.75)(22.3,4.9)(22.5,4.8)(22.7,4.95)(22.9,4.8)(23.1,4.9)(23.3,4.95)(23.5,4.8)(23.7,4.95)(23.9,4.85)(24.1,4.7)(24.3,4.65)(24.5,4.65)(24.7,4.75)(24.9,4.9)(25.12,4.8)
(25.68,4.9)(25.9,5.0)(26.1,4.85)(26.3,5.0)(26.5,4.8)(26.7,4.85)(26.9,4.75)(27.1,4.85)(27.3,4.95)(27.5,4.85)(27.7,4.9)(27.9,5.0)(28.1,4.95)(28.3,5.0)(28.52,4.85)
(29.8,4.7)(30,4.85)(30.2,4.95)(30.4,4.7)(30.6,4.9)(30.8,4.75)(31,4.95)(31.2,4.7)(31.4,4.85)(31.6,4.95)(31.8,4.75)(32,4.9)(32.2,4.7)(32.4,4.85)(32.6,4.95)(32.8,4.75)(33,4.9)(33.2,4.7)(33.4,4.85)(33.6,4.75)(33.8,4.95)(34,4.7)(34.2,4.85)(34.4,4.95)(34.6,4.75)(34.8,4.9)(35,4.7)(35.2,4.85)(35.4,4.75)(35.6,4.95)(35.8,4.7)(36,4.9)(36.2,4.75)(36.4,4.95)(36.6,4.7)(36.8,4.85)(37,4.95)(37.2,4.7)(37.4,4.85)(37.6,4.95)(37.8,4.75)(38,4.9)(38.2,4.7)(38.4,4.85)(38.6,4.95)(38.8,4.75)(39,4.9)(39.2,4.7)(39.4,4.85)(39.6,4.95)(39.8,4.75)
(40,4.9)(40.2,4.8)(40.4,4.95)(40.6,4.75)(40.8,4.9)(41,4.8)(41.2,4.95)(41.4,4.75)(41.6,4.9)(41.8,4.8)(42,4.95)(42.2,4.75)(42.4,4.9)(42.6,4.8)(42.8,4.95)(43,4.75)(43.2,4.9)(43.4,4.8)(43.6,4.95)(43.8,4.75)(44,4.9)(44.2,4.8)(44.4,4.95)(44.6,4.75)(44.8,4.9)(45,4.8)(45.2,4.95)(45.4,4.75)(45.6,4.9)(45.8,4.8)(46,4.95)(46.2,4.75)(46.4,4.9)(46.6,4.8)(46.8,4.95)(47,4.75)(47.2,4.9)(47.4,4.8)(47.6,4.95)(47.8,4.75)(48,4.9)(48.2,4.8)(48.4,4.95)(48.6,4.75)(48.8,4.9)(49,4.8)(49.2,4.95)(49.4,4.75)(49.6,4.9)(49.8,4.8)(50,4.9)
(0.55,5.15)(0.95,5.2)(1.25,5.25)(1.4,5.1)(1.75,5.2)(2,5.3)(2.85,5.3)(3,5.15)(3.35,5.1)(3.6,5.25)(4,5.35)(4.2,5.1)(4.55,5.05)(4.75,5.35)(5.05,5.2)(5.4,5.15)(5.55,5.3)(6.1,5.1)(6.55,5.05)(6.75,5.3)(7.05,5.1)(7.3,5.05)(7.7,5.15)(7.9,5.3)(8.3,5.2)(8.5,5.1)(8.7,5.25)(9.05,5.15)(9.25,5.3)(9.45,5.05)(9.8,5.25)(10,5.15)
(10.3,5.25)(10.6,5.1)(11,5.15)(11.3,5.05)(11.5,5.25)(11.95,5.3)(12.4,5.1)(12.75,5.25)(13,5.05)(13.3,5.35)(13.55,5.1)(13.9,5.3)(14.1,5.1)(14.55,5.3)(14.9,5.1)(15.2,5.35)(15.5,5.2)(15.9,5.25)(16.05,5.1)(16.4,5.3)(16.7,5.1)(17,5.3)(17.4,5.1)(17.6,5.3)(17.9,5.2)(18.25,5.1)(18.45,5.3)(18.75,5.1)(19.1,5.2)(19.45,5.1)(19.8,5.2)
(20.6,5.2)(20.85,5.3)(21.3,5.1)(21.6,5.3)(21.9,5.15)(22.3,5.3)(22.7,5.2)(23,5.3)(23.5,5.1)(23.85,5.3)(24.2,5.1)(24.75,5.1)(25.1,5.15)(25.7,5.2)(26,5.1)(26.2,5.35)(26.7,5.1)(27,5.25)(27.15,5.1)(27.6,5.1)(27.95,5.25)(28.1,5.1)(28.5,5.15)
(29.85,5.1)(30.35,5.05)(30.7,5.25)(31,5.15)(31.4,5.3)(31.9,5.15)(32.2,5.2)(32.7,5.1)(33.2,5.25)(33.5,5.1)(33.7,5.3)(34.15,5.1)(34.55,5.2)(34.85,5.25)(35.3,5.1)(35.6,5.25)(36,5.1)(36.2,5.25)(36.6,5.1)(37,5.3)(37.45,5.1)(37.7,5.25)(38.05,5.2)(38.4,5.1)(38.8,5.2)(39.05,5.1)(39.45,5.25)(39.8,5.15)
(40.15,5.1)(40.6,5.2)(41,5.05)(41.3,5.15)(41.75,5.05)(42.1,5.15)(42.45,5.25)(42.9,5.2)(43.2,5.05)(43.55,5.15)(44,5.1)(44.7,5.1)(44.9,5.25)(45.3,5.15)(45.65,5.1)(45.85,5.05)(46.2,5.2)(46.6,5.15)(47.1,5.05)(47.3,5.1)(47.7,5.2)(47.95,5.1)(48.3,5.2)(48.7,5.25)(49,5.1)(49.35,5.15)(49.7,5.2)
};
% --- small unfilled gaps left in the dense band
\addplot[only marks,forget plot,color=white,mark=diamond*,mark size=0.7pt,mark options={draw=white,fill=white,line width=0.05pt}] coordinates {
(0.5,4.4)(1.3,4.2)(1.8,4.45)(2.4,4.3)(3.6,4.4)(4.2,3.9)(5.1,4.35)(5.9,4.1)(6.7,4.45)(7.5,4.25)(8.4,4.4)(9.1,3.8)(9.8,4.3)(10.7,4.45)(11.6,4.2)(12.4,4.4)(13.2,3.95)(14,4.3)(14.8,4.45)(15.7,4.15)(16.4,4.4)(17.3,4.25)(18.1,3.7)(18.9,4.35)(19.6,4.1)(20.4,4.35)(21.2,4)(22.1,4.4)(22.9,3.6)(23.6,4.3)(24.1,4.05)(24.5,4.25)(24.9,3.8)(25.9,4.3)(26.1,3.85)(26.4,4.35)(27.2,3.7)(27.9,4.15)(30.3,4.2)(30.5,3.7)(31,4.4)(31.7,4)(32.4,4.35)(33.3,3.8)(34.2,4.3)(35,4.45)(35.8,4.1)(36.6,4.35)(37.3,3.9)(38.2,4.4)(39,4.15)(39.9,4.45)(40.8,3.85)(41.6,4.3)(42.5,4.45)(43.3,4)(44.1,4.3)(45,4.45)(45.9,3.75)(46.7,4.35)(47.5,4.15)(48.3,4.4)(49.2,3.95)(49.8,4.3)
};
\legend{QCELL (near),NETPAGE (far)}
\end{axis}
\end{tikzpicture}
\end{document}
